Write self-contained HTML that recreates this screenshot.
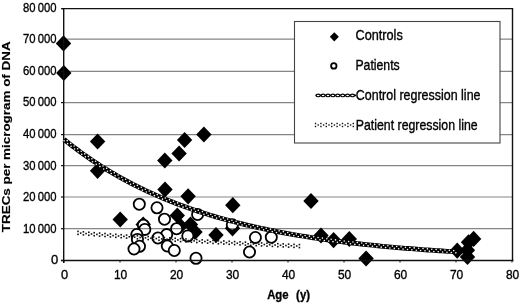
<!DOCTYPE html><html><head><meta charset="utf-8"><style>html,body{margin:0;padding:0;background:#fff;}svg{display:block;}text{font-family:"Liberation Sans",sans-serif;}</style></head><body>
<svg width="520" height="304" viewBox="0 0 520 304">
<rect x="0" y="0" width="520" height="304" fill="#fff"/>
<path d="M63.5 35.3L71.2 43.4L63.5 51.5L55.8 43.4Z" fill="#000"/>
<path d="M63.8 64.9L71.5 73.0L63.8 81.1L56.1 73.0Z" fill="#000"/>
<path d="M97.6 133.4L105.3 141.5L97.6 149.6L89.9 141.5Z" fill="#000"/>
<path d="M97.6 162.7L105.3 170.8L97.6 178.9L89.9 170.8Z" fill="#000"/>
<path d="M120.2 211.4L127.9 219.5L120.2 227.6L112.5 219.5Z" fill="#000"/>
<path d="M143.2 216.5L150.9 224.6L143.2 232.7L135.5 224.6Z" fill="#000"/>
<path d="M164.8 152.4L172.5 160.5L164.8 168.6L157.1 160.5Z" fill="#000"/>
<path d="M165.0 181.4L172.7 189.5L165.0 197.6L157.3 189.5Z" fill="#000"/>
<path d="M179.1 145.4L186.8 153.5L179.1 161.6L171.4 153.5Z" fill="#000"/>
<path d="M184.6 131.9L192.3 140.0L184.6 148.1L176.9 140.0Z" fill="#000"/>
<path d="M203.9 126.4L211.6 134.5L203.9 142.6L196.2 134.5Z" fill="#000"/>
<path d="M188.1 188.2L195.8 196.3L188.1 204.4L180.4 196.3Z" fill="#000"/>
<path d="M177.3 207.4L185.0 215.5L177.3 223.6L169.6 215.5Z" fill="#000"/>
<path d="M180.5 217.9L188.2 226.0L180.5 234.1L172.8 226.0Z" fill="#000"/>
<path d="M190.5 216.4L198.2 224.5L190.5 232.6L182.8 224.5Z" fill="#000"/>
<path d="M195.0 223.9L202.7 232.0L195.0 240.1L187.3 232.0Z" fill="#000"/>
<path d="M216.0 226.9L223.7 235.0L216.0 243.1L208.3 235.0Z" fill="#000"/>
<path d="M232.8 197.1L240.5 205.2L232.8 213.3L225.1 205.2Z" fill="#000"/>
<path d="M232.5 220.2L240.2 228.3L232.5 236.4L224.8 228.3Z" fill="#000"/>
<path d="M311.0 192.9L318.7 201.0L311.0 209.1L303.3 201.0Z" fill="#000"/>
<path d="M321.0 227.4L328.7 235.5L321.0 243.6L313.3 235.5Z" fill="#000"/>
<path d="M333.6 232.0L341.3 240.1L333.6 248.2L325.9 240.1Z" fill="#000"/>
<path d="M349.3 230.9L357.0 239.0L349.3 247.1L341.6 239.0Z" fill="#000"/>
<path d="M366.1 250.4L373.8 258.5L366.1 266.6L358.4 258.5Z" fill="#000"/>
<path d="M457.2 242.6L464.9 250.7L457.2 258.8L449.5 250.7Z" fill="#000"/>
<path d="M467.4 242.1L475.1 250.2L467.4 258.3L459.7 250.2Z" fill="#000"/>
<path d="M467.5 248.9L475.2 257.0L467.5 265.1L459.8 257.0Z" fill="#000"/>
<path d="M468.5 234.2L476.2 242.3L468.5 250.4L460.8 242.3Z" fill="#000"/>
<path d="M473.6 230.8L481.3 238.9L473.6 247.0L465.9 238.9Z" fill="#000"/>
<circle cx="139.3" cy="204.2" r="5.6" fill="#fff" stroke="#000" stroke-width="1.8"/>
<circle cx="157" cy="207.8" r="5.6" fill="#fff" stroke="#000" stroke-width="1.8"/>
<circle cx="164.5" cy="219.2" r="5.6" fill="#fff" stroke="#000" stroke-width="1.8"/>
<circle cx="143.4" cy="225.2" r="5.6" fill="#fff" stroke="#000" stroke-width="1.8"/>
<circle cx="144.8" cy="229.4" r="5.6" fill="#fff" stroke="#000" stroke-width="1.8"/>
<circle cx="136.8" cy="234.5" r="5.6" fill="#fff" stroke="#000" stroke-width="1.8"/>
<circle cx="137.4" cy="239.4" r="5.6" fill="#fff" stroke="#000" stroke-width="1.8"/>
<circle cx="139.5" cy="246.3" r="5.6" fill="#fff" stroke="#000" stroke-width="1.8"/>
<circle cx="134" cy="249" r="5.6" fill="#fff" stroke="#000" stroke-width="1.8"/>
<circle cx="176.6" cy="228.7" r="5.6" fill="#fff" stroke="#000" stroke-width="1.8"/>
<circle cx="166.7" cy="234.6" r="5.6" fill="#fff" stroke="#000" stroke-width="1.8"/>
<circle cx="157.9" cy="238" r="5.6" fill="#fff" stroke="#000" stroke-width="1.8"/>
<circle cx="167.3" cy="246" r="5.6" fill="#fff" stroke="#000" stroke-width="1.8"/>
<circle cx="174.3" cy="250.5" r="5.6" fill="#fff" stroke="#000" stroke-width="1.8"/>
<circle cx="187.8" cy="235.9" r="5.6" fill="#fff" stroke="#000" stroke-width="1.8"/>
<circle cx="197.6" cy="214.5" r="5.6" fill="#fff" stroke="#000" stroke-width="1.8"/>
<circle cx="196" cy="258.3" r="5.6" fill="#fff" stroke="#000" stroke-width="1.8"/>
<circle cx="232.3" cy="224.8" r="5.6" fill="#fff" stroke="#000" stroke-width="1.8"/>
<circle cx="255.4" cy="237.5" r="5.6" fill="#fff" stroke="#000" stroke-width="1.8"/>
<circle cx="249.5" cy="252" r="5.6" fill="#fff" stroke="#000" stroke-width="1.8"/>
<circle cx="271.3" cy="237.2" r="5.6" fill="#fff" stroke="#000" stroke-width="1.8"/>
<g stroke="#858585" stroke-width="1.2" style="mix-blend-mode:multiply"><line x1="64" y1="228.7" x2="512.5" y2="228.7"/><line x1="64" y1="197.0" x2="512.5" y2="197.0"/><line x1="64" y1="165.6" x2="512.5" y2="165.6"/><line x1="64" y1="134.6" x2="512.5" y2="134.6"/><line x1="64" y1="102.6" x2="512.5" y2="102.6"/><line x1="64" y1="71.35" x2="512.5" y2="71.35"/><line x1="64" y1="39.1" x2="512.5" y2="39.1"/></g>
<g stroke="#111" stroke-width="1.4" fill="none">
<line x1="62" y1="8.6" x2="513.2" y2="8.6"/>
<line x1="512.5" y1="8.6" x2="512.5" y2="260.5"/>
<line x1="63.7" y1="8.6" x2="63.7" y2="263.0"/>
<line x1="61" y1="260.5" x2="513.5" y2="260.5"/>
<line x1="61" y1="260.5" x2="64" y2="260.5" stroke-width="1.2"/>
<line x1="61" y1="228.7" x2="64" y2="228.7" stroke-width="1.2"/>
<line x1="61" y1="197.0" x2="64" y2="197.0" stroke-width="1.2"/>
<line x1="61" y1="165.6" x2="64" y2="165.6" stroke-width="1.2"/>
<line x1="61" y1="134.6" x2="64" y2="134.6" stroke-width="1.2"/>
<line x1="61" y1="102.6" x2="64" y2="102.6" stroke-width="1.2"/>
<line x1="61" y1="71.35" x2="64" y2="71.35" stroke-width="1.2"/>
<line x1="61" y1="39.1" x2="64" y2="39.1" stroke-width="1.2"/>
<line x1="61" y1="8.7" x2="64" y2="8.7" stroke-width="1.2"/>
<line x1="64.0" y1="260.5" x2="64.0" y2="262.5" stroke-width="1"/>
<line x1="120.0" y1="260.5" x2="120.0" y2="262.5" stroke-width="1"/>
<line x1="176.0" y1="260.5" x2="176.0" y2="262.5" stroke-width="1"/>
<line x1="232.0" y1="260.5" x2="232.0" y2="262.5" stroke-width="1"/>
<line x1="288.0" y1="260.5" x2="288.0" y2="262.5" stroke-width="1"/>
<line x1="344.0" y1="260.5" x2="344.0" y2="262.5" stroke-width="1"/>
<line x1="400.0" y1="260.5" x2="400.0" y2="262.5" stroke-width="1"/>
<line x1="456.0" y1="260.5" x2="456.0" y2="262.5" stroke-width="1"/>
<line x1="512.0" y1="260.5" x2="512.0" y2="262.5" stroke-width="1"/>
</g>
<path d="M64.00 139.40 L66.80 141.66 L69.60 143.87 L72.40 146.04 L75.20 148.17 L78.00 150.27 L80.80 152.32 L83.60 154.33 L86.40 156.31 L89.20 158.25 L92.00 160.16 L94.80 162.02 L97.60 163.86 L100.40 165.66 L103.20 167.43 L106.00 169.16 L108.80 170.86 L111.60 172.53 L114.40 174.17 L117.20 175.78 L120.00 177.35 L122.80 178.90 L125.60 180.42 L128.40 181.91 L131.20 183.38 L134.00 184.81 L136.80 186.22 L139.60 187.61 L142.40 188.96 L145.20 190.30 L148.00 191.60 L150.80 192.89 L153.60 194.15 L156.40 195.38 L159.20 196.59 L162.00 197.78 L164.80 198.95 L167.60 200.10 L170.40 201.22 L173.20 202.33 L176.00 203.41 L178.80 204.47 L181.60 205.52 L184.40 206.54 L187.20 207.55 L190.00 208.53 L192.80 209.50 L195.60 210.45 L198.40 211.38 L201.20 212.30 L204.00 213.20 L206.80 214.08 L209.60 214.94 L212.40 215.79 L215.20 216.62 L218.00 217.44 L220.80 218.24 L223.60 219.03 L226.40 219.80 L229.20 220.56 L232.00 221.30 L234.80 222.03 L237.60 222.75 L240.40 223.45 L243.20 224.14 L246.00 224.82 L248.80 225.48 L251.60 226.14 L254.40 226.78 L257.20 227.40 L260.00 228.02 L262.80 228.63 L265.60 229.22 L268.40 229.80 L271.20 230.37 L274.00 230.93 L276.80 231.49 L279.60 232.03 L282.40 232.56 L285.20 233.08 L288.00 233.59 L290.80 234.09 L293.60 234.58 L296.40 235.06 L299.20 235.54 L302.00 236.00 L304.80 236.46 L307.60 236.91 L310.40 237.35 L313.20 237.78 L316.00 238.20 L318.80 238.61 L321.60 239.02 L324.40 239.42 L327.20 239.82 L330.00 240.20 L332.80 240.58 L335.60 240.95 L338.40 241.31 L341.20 241.67 L344.00 242.02 L346.80 242.37 L349.60 242.70 L352.40 243.03 L355.20 243.36 L358.00 243.68 L360.80 243.99 L363.60 244.30 L366.40 244.60 L369.20 244.90 L372.00 245.19 L374.80 245.47 L377.60 245.75 L380.40 246.03 L383.20 246.30 L386.00 246.56 L388.80 246.82 L391.60 247.08 L394.40 247.33 L397.20 247.57 L400.00 247.81 L402.80 248.05 L405.60 248.28 L408.40 248.51 L411.20 248.73 L414.00 248.95 L416.80 249.17 L419.60 249.38 L422.40 249.58 L425.20 249.79 L428.00 249.99 L430.80 250.18 L433.60 250.38 L436.40 250.56 L439.20 250.75 L442.00 250.93 L444.80 251.11 L447.60 251.28 L450.40 251.46 L453.20 251.62 L456.00 251.79" fill="none" stroke="#000" stroke-width="4.8"/>
<g fill="#fff"><circle cx="64.12" cy="140.85" r="0.8"/><circle cx="67.23" cy="140.66" r="0.8"/><circle cx="67.60" cy="143.64" r="0.8"/><circle cx="70.69" cy="143.39" r="0.8"/><circle cx="71.09" cy="146.36" r="0.8"/><circle cx="74.16" cy="146.07" r="0.8"/><circle cx="74.57" cy="149.01" r="0.8"/><circle cx="77.62" cy="148.68" r="0.8"/><circle cx="78.16" cy="151.69" r="0.8"/><circle cx="81.19" cy="151.31" r="0.8"/><circle cx="81.76" cy="154.30" r="0.8"/><circle cx="84.77" cy="153.88" r="0.8"/><circle cx="85.35" cy="156.86" r="0.8"/><circle cx="88.34" cy="156.38" r="0.8"/><circle cx="88.94" cy="159.35" r="0.8"/><circle cx="91.92" cy="158.83" r="0.8"/><circle cx="92.54" cy="161.78" r="0.8"/><circle cx="95.60" cy="161.30" r="0.8"/><circle cx="96.24" cy="164.23" r="0.8"/><circle cx="99.29" cy="163.70" r="0.8"/><circle cx="99.95" cy="166.62" r="0.8"/><circle cx="102.97" cy="166.04" r="0.8"/><circle cx="103.65" cy="168.94" r="0.8"/><circle cx="106.66" cy="168.33" r="0.8"/><circle cx="107.47" cy="171.28" r="0.8"/><circle cx="110.46" cy="170.63" r="0.8"/><circle cx="111.29" cy="173.57" r="0.8"/><circle cx="114.26" cy="172.87" r="0.8"/><circle cx="115.11" cy="175.79" r="0.8"/><circle cx="118.05" cy="175.05" r="0.8"/><circle cx="118.93" cy="177.96" r="0.8"/><circle cx="121.85" cy="177.18" r="0.8"/><circle cx="122.74" cy="180.07" r="0.8"/><circle cx="125.65" cy="179.26" r="0.8"/><circle cx="126.67" cy="182.19" r="0.8"/><circle cx="129.56" cy="181.34" r="0.8"/><circle cx="130.60" cy="184.25" r="0.8"/><circle cx="133.47" cy="183.36" r="0.8"/><circle cx="134.42" cy="186.20" r="0.8"/><circle cx="137.38" cy="185.34" r="0.8"/><circle cx="138.46" cy="188.22" r="0.8"/><circle cx="141.29" cy="187.26" r="0.8"/><circle cx="142.39" cy="190.13" r="0.8"/><circle cx="145.31" cy="189.19" r="0.8"/><circle cx="146.32" cy="191.98" r="0.8"/><circle cx="149.22" cy="191.01" r="0.8"/><circle cx="150.37" cy="193.84" r="0.8"/><circle cx="153.25" cy="192.84" r="0.8"/><circle cx="154.41" cy="195.65" r="0.8"/><circle cx="157.27" cy="194.61" r="0.8"/><circle cx="158.45" cy="197.41" r="0.8"/><circle cx="161.29" cy="196.34" r="0.8"/><circle cx="162.49" cy="199.13" r="0.8"/><circle cx="165.31" cy="198.03" r="0.8"/><circle cx="166.64" cy="200.84" r="0.8"/><circle cx="169.45" cy="199.71" r="0.8"/><circle cx="170.69" cy="202.47" r="0.8"/><circle cx="173.47" cy="201.31" r="0.8"/><circle cx="174.84" cy="204.09" r="0.8"/><circle cx="177.61" cy="202.90" r="0.8"/><circle cx="178.88" cy="205.63" r="0.8"/><circle cx="181.74" cy="204.45" r="0.8"/><circle cx="183.03" cy="207.16" r="0.8"/><circle cx="185.88" cy="205.96" r="0.8"/><circle cx="187.18" cy="208.66" r="0.8"/><circle cx="190.01" cy="207.42" r="0.8"/><circle cx="191.34" cy="210.11" r="0.8"/><circle cx="194.15" cy="208.85" r="0.8"/><circle cx="195.49" cy="211.52" r="0.8"/><circle cx="198.28" cy="210.24" r="0.8"/><circle cx="199.75" cy="212.93" r="0.8"/><circle cx="202.42" cy="211.59" r="0.8"/><circle cx="203.91" cy="214.27" r="0.8"/><circle cx="206.67" cy="212.93" r="0.8"/><circle cx="208.17" cy="215.60" r="0.8"/><circle cx="210.80" cy="214.21" r="0.8"/><circle cx="212.32" cy="216.86" r="0.8"/><circle cx="215.05" cy="215.48" r="0.8"/><circle cx="216.59" cy="218.12" r="0.8"/><circle cx="219.30" cy="216.72" r="0.8"/><circle cx="220.85" cy="219.35" r="0.8"/><circle cx="223.43" cy="217.89" r="0.8"/><circle cx="225.00" cy="220.51" r="0.8"/><circle cx="227.68" cy="219.06" r="0.8"/><circle cx="229.26" cy="221.66" r="0.8"/><circle cx="231.93" cy="220.20" r="0.8"/><circle cx="233.53" cy="222.79" r="0.8"/><circle cx="236.18" cy="221.30" r="0.8"/><circle cx="237.79" cy="223.88" r="0.8"/><circle cx="240.43" cy="222.38" r="0.8"/><circle cx="242.05" cy="224.94" r="0.8"/><circle cx="244.79" cy="223.45" r="0.8"/><circle cx="246.43" cy="226.00" r="0.8"/><circle cx="249.04" cy="224.46" r="0.8"/><circle cx="250.69" cy="227.00" r="0.8"/><circle cx="253.29" cy="225.45" r="0.8"/><circle cx="254.95" cy="227.98" r="0.8"/><circle cx="257.54" cy="226.40" r="0.8"/><circle cx="259.33" cy="228.95" r="0.8"/><circle cx="261.90" cy="227.36" r="0.8"/><circle cx="263.59" cy="229.87" r="0.8"/><circle cx="266.15" cy="228.26" r="0.8"/><circle cx="267.85" cy="230.76" r="0.8"/><circle cx="270.51" cy="229.16" r="0.8"/><circle cx="272.23" cy="231.65" r="0.8"/><circle cx="274.76" cy="230.02" r="0.8"/><circle cx="276.49" cy="232.49" r="0.8"/><circle cx="279.13" cy="230.87" r="0.8"/><circle cx="280.86" cy="233.33" r="0.8"/><circle cx="283.38" cy="231.67" r="0.8"/><circle cx="285.23" cy="234.15" r="0.8"/><circle cx="287.74" cy="232.47" r="0.8"/><circle cx="289.50" cy="234.92" r="0.8"/><circle cx="292.10" cy="233.25" r="0.8"/><circle cx="293.87" cy="235.69" r="0.8"/><circle cx="296.35" cy="233.99" r="0.8"/><circle cx="298.24" cy="236.44" r="0.8"/><circle cx="300.72" cy="234.73" r="0.8"/><circle cx="302.50" cy="237.15" r="0.8"/><circle cx="305.08" cy="235.44" r="0.8"/><circle cx="306.88" cy="237.85" r="0.8"/><circle cx="309.44" cy="236.13" r="0.8"/><circle cx="311.25" cy="238.54" r="0.8"/><circle cx="313.69" cy="236.79" r="0.8"/><circle cx="315.62" cy="239.20" r="0.8"/><circle cx="318.06" cy="237.44" r="0.8"/><circle cx="319.99" cy="239.85" r="0.8"/><circle cx="322.42" cy="238.08" r="0.8"/><circle cx="324.36" cy="240.48" r="0.8"/><circle cx="326.79" cy="238.70" r="0.8"/><circle cx="328.74" cy="241.09" r="0.8"/><circle cx="331.15" cy="239.30" r="0.8"/><circle cx="333.00" cy="241.66" r="0.8"/><circle cx="335.51" cy="239.88" r="0.8"/><circle cx="337.37" cy="242.24" r="0.8"/><circle cx="339.88" cy="240.44" r="0.8"/><circle cx="341.74" cy="242.80" r="0.8"/><circle cx="344.24" cy="240.99" r="0.8"/><circle cx="346.11" cy="243.34" r="0.8"/><circle cx="348.61" cy="241.53" r="0.8"/><circle cx="350.48" cy="243.87" r="0.8"/><circle cx="352.97" cy="242.04" r="0.8"/><circle cx="354.86" cy="244.38" r="0.8"/><circle cx="357.33" cy="242.55" r="0.8"/><circle cx="359.23" cy="244.87" r="0.8"/><circle cx="361.70" cy="243.04" r="0.8"/><circle cx="363.60" cy="245.36" r="0.8"/><circle cx="366.06" cy="243.51" r="0.8"/><circle cx="368.08" cy="245.84" r="0.8"/><circle cx="370.43" cy="243.97" r="0.8"/><circle cx="372.45" cy="246.29" r="0.8"/><circle cx="374.79" cy="244.42" r="0.8"/><circle cx="376.82" cy="246.73" r="0.8"/><circle cx="379.16" cy="244.85" r="0.8"/><circle cx="381.20" cy="247.16" r="0.8"/><circle cx="383.52" cy="245.27" r="0.8"/><circle cx="385.57" cy="247.58" r="0.8"/><circle cx="387.89" cy="245.68" r="0.8"/><circle cx="389.94" cy="247.98" r="0.8"/><circle cx="392.37" cy="246.09" r="0.8"/><circle cx="394.31" cy="248.37" r="0.8"/><circle cx="396.73" cy="246.48" r="0.8"/><circle cx="398.68" cy="248.75" r="0.8"/><circle cx="401.10" cy="246.85" r="0.8"/><circle cx="403.05" cy="249.12" r="0.8"/><circle cx="405.46" cy="247.22" r="0.8"/><circle cx="407.53" cy="249.49" r="0.8"/><circle cx="409.83" cy="247.57" r="0.8"/><circle cx="411.90" cy="249.84" r="0.8"/><circle cx="414.19" cy="247.91" r="0.8"/><circle cx="416.27" cy="250.18" r="0.8"/><circle cx="418.67" cy="248.25" r="0.8"/><circle cx="420.64" cy="250.51" r="0.8"/><circle cx="423.04" cy="248.58" r="0.8"/><circle cx="425.01" cy="250.83" r="0.8"/><circle cx="427.40" cy="248.89" r="0.8"/><circle cx="429.38" cy="251.14" r="0.8"/><circle cx="431.77" cy="249.20" r="0.8"/><circle cx="433.86" cy="251.45" r="0.8"/><circle cx="436.13" cy="249.49" r="0.8"/><circle cx="438.23" cy="251.74" r="0.8"/><circle cx="440.50" cy="249.78" r="0.8"/><circle cx="442.60" cy="252.02" r="0.8"/><circle cx="444.98" cy="250.07" r="0.8"/><circle cx="446.97" cy="252.30" r="0.8"/><circle cx="449.34" cy="250.34" r="0.8"/><circle cx="451.34" cy="252.56" r="0.8"/><circle cx="453.71" cy="250.60" r="0.8"/><circle cx="455.83" cy="252.83" r="0.8"/></g>
<g fill="#111"><rect x="77.20" y="230.62" width="1.6" height="1.6"/><rect x="77.20" y="233.62" width="1.6" height="1.6"/><rect x="79.90" y="232.34" width="1.6" height="1.6"/><rect x="82.60" y="231.05" width="1.6" height="1.6"/><rect x="82.60" y="234.05" width="1.6" height="1.6"/><rect x="85.30" y="232.77" width="1.6" height="1.6"/><rect x="88.00" y="231.48" width="1.6" height="1.6"/><rect x="88.00" y="234.48" width="1.6" height="1.6"/><rect x="90.70" y="233.19" width="1.6" height="1.6"/><rect x="93.40" y="231.90" width="1.6" height="1.6"/><rect x="93.40" y="234.90" width="1.6" height="1.6"/><rect x="96.10" y="233.61" width="1.6" height="1.6"/><rect x="98.80" y="232.31" width="1.6" height="1.6"/><rect x="98.80" y="235.31" width="1.6" height="1.6"/><rect x="101.50" y="234.02" width="1.6" height="1.6"/><rect x="104.20" y="232.72" width="1.6" height="1.6"/><rect x="104.20" y="235.72" width="1.6" height="1.6"/><rect x="106.90" y="234.42" width="1.6" height="1.6"/><rect x="109.60" y="233.12" width="1.6" height="1.6"/><rect x="109.60" y="236.12" width="1.6" height="1.6"/><rect x="112.30" y="234.82" width="1.6" height="1.6"/><rect x="115.00" y="233.51" width="1.6" height="1.6"/><rect x="115.00" y="236.51" width="1.6" height="1.6"/><rect x="117.70" y="235.21" width="1.6" height="1.6"/><rect x="120.40" y="233.90" width="1.6" height="1.6"/><rect x="120.40" y="236.90" width="1.6" height="1.6"/><rect x="123.10" y="235.59" width="1.6" height="1.6"/><rect x="125.80" y="234.29" width="1.6" height="1.6"/><rect x="125.80" y="237.29" width="1.6" height="1.6"/><rect x="128.50" y="235.97" width="1.6" height="1.6"/><rect x="131.20" y="234.66" width="1.6" height="1.6"/><rect x="131.20" y="237.66" width="1.6" height="1.6"/><rect x="133.90" y="236.35" width="1.6" height="1.6"/><rect x="136.60" y="235.03" width="1.6" height="1.6"/><rect x="136.60" y="238.03" width="1.6" height="1.6"/><rect x="139.30" y="236.71" width="1.6" height="1.6"/><rect x="142.00" y="235.40" width="1.6" height="1.6"/><rect x="142.00" y="238.40" width="1.6" height="1.6"/><rect x="144.70" y="237.08" width="1.6" height="1.6"/><rect x="147.40" y="235.75" width="1.6" height="1.6"/><rect x="147.40" y="238.75" width="1.6" height="1.6"/><rect x="150.10" y="237.43" width="1.6" height="1.6"/><rect x="152.80" y="236.11" width="1.6" height="1.6"/><rect x="152.80" y="239.11" width="1.6" height="1.6"/><rect x="155.50" y="237.78" width="1.6" height="1.6"/><rect x="158.20" y="236.46" width="1.6" height="1.6"/><rect x="158.20" y="239.46" width="1.6" height="1.6"/><rect x="160.90" y="238.13" width="1.6" height="1.6"/><rect x="163.60" y="236.80" width="1.6" height="1.6"/><rect x="163.60" y="239.80" width="1.6" height="1.6"/><rect x="166.30" y="238.47" width="1.6" height="1.6"/><rect x="169.00" y="237.13" width="1.6" height="1.6"/><rect x="169.00" y="240.13" width="1.6" height="1.6"/><rect x="171.70" y="238.80" width="1.6" height="1.6"/><rect x="174.40" y="237.47" width="1.6" height="1.6"/><rect x="174.40" y="240.47" width="1.6" height="1.6"/><rect x="177.10" y="239.13" width="1.6" height="1.6"/><rect x="179.80" y="237.79" width="1.6" height="1.6"/><rect x="179.80" y="240.79" width="1.6" height="1.6"/><rect x="182.50" y="239.45" width="1.6" height="1.6"/><rect x="185.20" y="238.11" width="1.6" height="1.6"/><rect x="185.20" y="241.11" width="1.6" height="1.6"/><rect x="187.90" y="239.77" width="1.6" height="1.6"/><rect x="190.60" y="238.43" width="1.6" height="1.6"/><rect x="190.60" y="241.43" width="1.6" height="1.6"/><rect x="193.30" y="240.08" width="1.6" height="1.6"/><rect x="196.00" y="238.74" width="1.6" height="1.6"/><rect x="196.00" y="241.74" width="1.6" height="1.6"/><rect x="198.70" y="240.39" width="1.6" height="1.6"/><rect x="201.40" y="239.05" width="1.6" height="1.6"/><rect x="201.40" y="242.05" width="1.6" height="1.6"/><rect x="204.10" y="240.70" width="1.6" height="1.6"/><rect x="206.80" y="239.35" width="1.6" height="1.6"/><rect x="206.80" y="242.35" width="1.6" height="1.6"/><rect x="209.50" y="241.00" width="1.6" height="1.6"/><rect x="212.20" y="239.64" width="1.6" height="1.6"/><rect x="212.20" y="242.64" width="1.6" height="1.6"/><rect x="214.90" y="241.29" width="1.6" height="1.6"/><rect x="217.60" y="239.93" width="1.6" height="1.6"/><rect x="217.60" y="242.93" width="1.6" height="1.6"/><rect x="220.30" y="241.58" width="1.6" height="1.6"/><rect x="223.00" y="240.22" width="1.6" height="1.6"/><rect x="223.00" y="243.22" width="1.6" height="1.6"/><rect x="225.70" y="241.86" width="1.6" height="1.6"/><rect x="228.40" y="240.50" width="1.6" height="1.6"/><rect x="228.40" y="243.50" width="1.6" height="1.6"/><rect x="231.10" y="242.14" width="1.6" height="1.6"/><rect x="233.80" y="240.78" width="1.6" height="1.6"/><rect x="233.80" y="243.78" width="1.6" height="1.6"/><rect x="236.50" y="242.42" width="1.6" height="1.6"/><rect x="239.20" y="241.06" width="1.6" height="1.6"/><rect x="239.20" y="244.06" width="1.6" height="1.6"/><rect x="241.90" y="242.69" width="1.6" height="1.6"/><rect x="244.60" y="241.33" width="1.6" height="1.6"/><rect x="244.60" y="244.33" width="1.6" height="1.6"/><rect x="247.30" y="242.96" width="1.6" height="1.6"/><rect x="250.00" y="241.59" width="1.6" height="1.6"/><rect x="250.00" y="244.59" width="1.6" height="1.6"/><rect x="252.70" y="243.22" width="1.6" height="1.6"/><rect x="255.40" y="241.85" width="1.6" height="1.6"/><rect x="255.40" y="244.85" width="1.6" height="1.6"/><rect x="258.10" y="243.48" width="1.6" height="1.6"/><rect x="260.80" y="242.11" width="1.6" height="1.6"/><rect x="260.80" y="245.11" width="1.6" height="1.6"/><rect x="263.50" y="243.74" width="1.6" height="1.6"/><rect x="266.20" y="242.36" width="1.6" height="1.6"/><rect x="266.20" y="245.36" width="1.6" height="1.6"/><rect x="268.90" y="243.99" width="1.6" height="1.6"/><rect x="271.60" y="242.61" width="1.6" height="1.6"/><rect x="271.60" y="245.61" width="1.6" height="1.6"/><rect x="274.30" y="244.24" width="1.6" height="1.6"/><rect x="277.00" y="242.86" width="1.6" height="1.6"/><rect x="277.00" y="245.86" width="1.6" height="1.6"/><rect x="279.70" y="244.48" width="1.6" height="1.6"/><rect x="282.40" y="243.10" width="1.6" height="1.6"/><rect x="282.40" y="246.10" width="1.6" height="1.6"/><rect x="285.10" y="244.72" width="1.6" height="1.6"/><rect x="287.80" y="243.34" width="1.6" height="1.6"/><rect x="287.80" y="246.34" width="1.6" height="1.6"/><rect x="290.50" y="244.95" width="1.6" height="1.6"/><rect x="293.20" y="243.57" width="1.6" height="1.6"/><rect x="293.20" y="246.57" width="1.6" height="1.6"/><rect x="295.90" y="245.19" width="1.6" height="1.6"/><rect x="298.60" y="243.80" width="1.6" height="1.6"/><rect x="298.60" y="246.80" width="1.6" height="1.6"/></g>
<rect x="294.5" y="21.5" width="205.5" height="121.5" fill="#fff" stroke="#444" stroke-width="1.1"/>
<path d="M334.3 32.199999999999996L338.8 36.8L334.3 41.4L329.8 36.8Z" fill="#000"/>
<circle cx="333.8" cy="65.9" r="2.7" fill="#fff" stroke="#000" stroke-width="1.8"/>
<path d="M315.5 95.4 L356 95.4" stroke="#000" stroke-width="1.6"/>
<g fill="#fff" stroke="#000" stroke-width="1.15"><ellipse cx="318.20" cy="95.4" rx="1.95" ry="1.35"/><ellipse cx="323.10" cy="95.4" rx="1.95" ry="1.35"/><ellipse cx="328.00" cy="95.4" rx="1.95" ry="1.35"/><ellipse cx="332.90" cy="95.4" rx="1.95" ry="1.35"/><ellipse cx="337.80" cy="95.4" rx="1.95" ry="1.35"/><ellipse cx="342.70" cy="95.4" rx="1.95" ry="1.35"/><ellipse cx="347.60" cy="95.4" rx="1.95" ry="1.35"/><ellipse cx="352.50" cy="95.4" rx="1.95" ry="1.35"/></g>
<g fill="#111"><rect x="314.80" y="122.80" width="1.4" height="1.4"/><rect x="314.80" y="125.80" width="1.4" height="1.4"/><rect x="317.50" y="124.30" width="1.4" height="1.4"/><rect x="320.20" y="122.80" width="1.4" height="1.4"/><rect x="320.20" y="125.80" width="1.4" height="1.4"/><rect x="322.90" y="124.30" width="1.4" height="1.4"/><rect x="325.60" y="122.80" width="1.4" height="1.4"/><rect x="325.60" y="125.80" width="1.4" height="1.4"/><rect x="328.30" y="124.30" width="1.4" height="1.4"/><rect x="331.00" y="122.80" width="1.4" height="1.4"/><rect x="331.00" y="125.80" width="1.4" height="1.4"/><rect x="333.70" y="124.30" width="1.4" height="1.4"/><rect x="336.40" y="122.80" width="1.4" height="1.4"/><rect x="336.40" y="125.80" width="1.4" height="1.4"/><rect x="339.10" y="124.30" width="1.4" height="1.4"/><rect x="341.80" y="122.80" width="1.4" height="1.4"/><rect x="341.80" y="125.80" width="1.4" height="1.4"/><rect x="344.50" y="124.30" width="1.4" height="1.4"/><rect x="347.20" y="122.80" width="1.4" height="1.4"/><rect x="347.20" y="125.80" width="1.4" height="1.4"/><rect x="349.90" y="124.30" width="1.4" height="1.4"/><rect x="352.60" y="122.80" width="1.4" height="1.4"/><rect x="352.60" y="125.80" width="1.4" height="1.4"/></g>
<g fill="#000" stroke="#000" stroke-width="0.35">
<text x="355.5" y="40" font-size="14.3" text-anchor="start" font-weight="normal" textLength="47.3" lengthAdjust="spacingAndGlyphs">Controls</text>
<text x="355.4" y="70" font-size="14.3" text-anchor="start" font-weight="normal" textLength="44.3" lengthAdjust="spacingAndGlyphs">Patients</text>
<text x="355.8" y="99.6" font-size="14.3" text-anchor="start" font-weight="normal" textLength="124.7" lengthAdjust="spacingAndGlyphs">Control regression line</text>
<text x="355.8" y="129.5" font-size="14.3" text-anchor="start" font-weight="normal" textLength="121.8" lengthAdjust="spacingAndGlyphs">Patient regression line</text>
<text x="58.2" y="264.3" font-size="13" text-anchor="end" font-weight="normal">0</text>
<text x="23" y="232.7" font-size="13" textLength="33.6" lengthAdjust="spacingAndGlyphs">10&#8201;000</text>
<text x="23" y="201.1" font-size="13" textLength="33.6" lengthAdjust="spacingAndGlyphs">20&#8201;000</text>
<text x="23" y="169.6" font-size="13" textLength="33.6" lengthAdjust="spacingAndGlyphs">30&#8201;000</text>
<text x="23" y="138.0" font-size="13" textLength="33.6" lengthAdjust="spacingAndGlyphs">40&#8201;000</text>
<text x="23" y="106.4" font-size="13" textLength="33.6" lengthAdjust="spacingAndGlyphs">50&#8201;000</text>
<text x="23" y="74.8" font-size="13" textLength="33.6" lengthAdjust="spacingAndGlyphs">60&#8201;000</text>
<text x="23" y="43.2" font-size="13" textLength="33.6" lengthAdjust="spacingAndGlyphs">70&#8201;000</text>
<text x="23" y="11.7" font-size="13" textLength="33.6" lengthAdjust="spacingAndGlyphs">80&#8201;000</text>
<text x="64.6" y="278.8" font-size="12.8" text-anchor="middle" font-weight="normal">0</text>
<text x="120.6" y="278.8" font-size="12.8" text-anchor="middle" font-weight="normal" textLength="13.3" lengthAdjust="spacingAndGlyphs">10</text>
<text x="176.6" y="278.8" font-size="12.8" text-anchor="middle" font-weight="normal" textLength="13.3" lengthAdjust="spacingAndGlyphs">20</text>
<text x="232.6" y="278.8" font-size="12.8" text-anchor="middle" font-weight="normal" textLength="13.3" lengthAdjust="spacingAndGlyphs">30</text>
<text x="288.6" y="278.8" font-size="12.8" text-anchor="middle" font-weight="normal" textLength="13.3" lengthAdjust="spacingAndGlyphs">40</text>
<text x="344.6" y="278.8" font-size="12.8" text-anchor="middle" font-weight="normal" textLength="13.3" lengthAdjust="spacingAndGlyphs">50</text>
<text x="400.6" y="278.8" font-size="12.8" text-anchor="middle" font-weight="normal" textLength="13.3" lengthAdjust="spacingAndGlyphs">60</text>
<text x="456.6" y="278.8" font-size="12.8" text-anchor="middle" font-weight="normal" textLength="13.3" lengthAdjust="spacingAndGlyphs">70</text>
<text x="512.6" y="278.8" font-size="12.8" text-anchor="middle" font-weight="normal" textLength="13.3" lengthAdjust="spacingAndGlyphs">80</text>
<text x="267.2" y="299.2" font-size="12" font-weight="bold" stroke-width="0.3" textLength="21.4" lengthAdjust="spacingAndGlyphs">Age</text>
<text x="296.1" y="299.2" font-size="12" font-weight="bold" stroke-width="0.3" textLength="13.9" lengthAdjust="spacingAndGlyphs">(y)</text>
<text transform="translate(10.2,232.2) rotate(-90)" x="0" y="0" font-size="11.8" font-weight="bold" stroke-width="0.15" textLength="190.8" lengthAdjust="spacingAndGlyphs">TRECs per microgram of DNA</text>
</g>
</svg></body></html>
